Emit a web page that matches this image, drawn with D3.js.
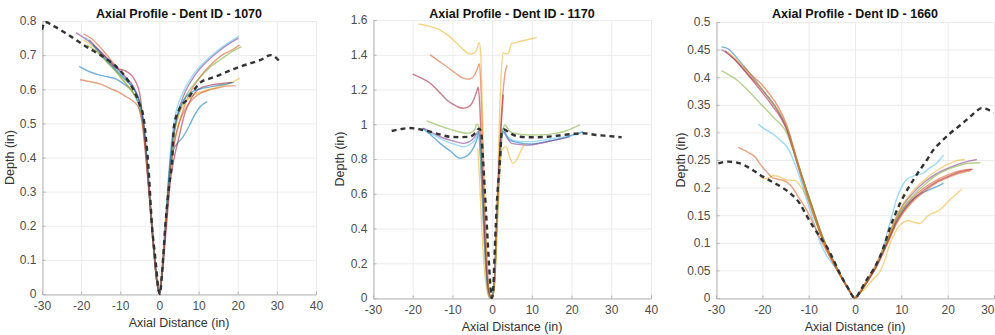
<!DOCTYPE html>
<html>
<head>
<meta charset="utf-8">
<script src="https://cdn.jsdelivr.net/npm/d3@7"></script>
<style>
  body { margin: 0; background: #fff; }
  svg { display: block; font-family: "Liberation Sans", Arial, sans-serif; }
  .tick-label { fill: #4d4d4d; font-size: 12px; }
  .axis-label { fill: #333; font-size: 12.5px; }
  .title { fill: #111; font-size: 12.5px; font-weight: bold; }
</style>
</head>
<body>
<div id="chart"></div>
<script>
// MATLAB default line colour order
const lineColors = ["#0072BD", "#D95319", "#EDB120", "#7E2F8E", "#77AC30", "#4DBEEE", "#A2142F"];

// ---- Dent ID 1070 ----
const xTicks1070 = [-30, -20, -10, 0, 10, 20, 30, 40];
const yTicks1070 = [0, 0.1, 0.2, 0.3, 0.4, 0.5, 0.6, 0.7, 0.8];
const dashed1070 = [[-30,0.774],[-29.2,0.797],[-27,0.785],[-24,0.765],[-21,0.742],[-18,0.72],[-15,0.70],[-12.5,0.68],[-10,0.655],[-8,0.625],[-6.7,0.60],[-5.2,0.56],[-4.1,0.52],[-3.3,0.44],[-2.8,0.37],[-1.9,0.2],[-1,0.1],[-0.3,0.02],[0.1,0],[0.6,0.05],[1.5,0.2],[2.5,0.32],[3.3,0.4],[3.7,0.49],[5,0.54],[7.1,0.57],[9,0.6],[10.5,0.62],[13,0.632],[15.6,0.643],[18,0.655],[20.8,0.667],[23.5,0.677],[25.9,0.686],[28.5,0.70],[30.6,0.683]];
const lines1070 = [
  [[-20.5,0.667],[-18,0.652],[-15.5,0.642],[-13,0.636],[-11,0.63],[-9,0.615],[-7,0.595],[-5.5,0.56],[-4.3,0.5],[-3.4,0.4],[-2.5,0.28],[-1.6,0.15],[-0.7,0.04],[0,0],[0.8,0.08],[1.8,0.22],[2.8,0.36],[3.5,0.42],[4.5,0.44],[6,0.46],[7.5,0.49],[9,0.525],[10.5,0.55],[12.2,0.564]],
  [[-19.4,0.762],[-17,0.745],[-14.5,0.715],[-12,0.68],[-9.5,0.645],[-7,0.61],[-5.3,0.57],[-4.2,0.51],[-3.3,0.41],[-2.5,0.29],[-1.6,0.16],[-0.7,0.05],[0,0],[0.7,0.07],[1.7,0.22],[2.6,0.35],[3.5,0.43],[5,0.5],[7,0.57],[10,0.63],[13,0.67],[16,0.7],[18.5,0.715],[20.5,0.73]],
  [[-19.5,0.745],[-17,0.725],[-14.5,0.695],[-12,0.665],[-9.5,0.63],[-7,0.595],[-5.3,0.56],[-4.2,0.5],[-3.3,0.4],[-2.5,0.28],[-1.6,0.15],[-0.7,0.04],[0,0],[0.6,0.07],[1.5,0.21],[2.4,0.35],[3.2,0.44],[4.5,0.51],[6.5,0.56],[9,0.585],[12,0.597],[15,0.607],[18,0.618],[20.5,0.632]],
  [[-21.3,0.766],[-18,0.74],[-15,0.71],[-12,0.675],[-9,0.64],[-6.5,0.605],[-5,0.56],[-4,0.5],[-3.2,0.4],[-2.4,0.28],[-1.5,0.15],[-0.6,0.04],[0,0],[0.7,0.06],[1.6,0.2],[2.4,0.33],[3.2,0.43],[4.5,0.52],[6.5,0.59],[9,0.64],[12,0.68],[15,0.71],[18,0.735],[20.2,0.75]],
  [[-18.6,0.73],[-16,0.71],[-13.5,0.68],[-11,0.65],[-8.5,0.615],[-6.5,0.585],[-5,0.55],[-4,0.49],[-3.2,0.39],[-2.4,0.27],[-1.5,0.14],[-0.6,0.03],[0,0],[0.8,0.08],[1.7,0.22],[2.6,0.36],[3.5,0.45],[5,0.53],[7,0.585],[10,0.63],[13,0.665],[16,0.69],[18.5,0.71],[21,0.725]],
  [[-19,0.752],[-16.5,0.725],[-14,0.695],[-11.5,0.665],[-9,0.635],[-6.5,0.6],[-5,0.56],[-4.1,0.5],[-3.3,0.4],[-2.5,0.28],[-1.6,0.15],[-0.7,0.04],[0,0],[0.6,0.06],[1.5,0.2],[2.3,0.34],[3,0.44],[4,0.52],[6,0.59],[8.5,0.64],[11.5,0.68],[14.5,0.71],[17.5,0.735],[20.3,0.755]],
  [[-18,0.745],[-15.5,0.715],[-13,0.685],[-11,0.662],[-9,0.655],[-7.5,0.645],[-6.2,0.625],[-5,0.585],[-4.2,0.51],[-3.4,0.41],[-2.5,0.28],[-1.6,0.15],[-0.7,0.04],[0,0],[0.8,0.07],[1.8,0.2],[2.8,0.33],[3.8,0.4],[5,0.46],[6.5,0.53],[8,0.57],[10,0.6],[13,0.612],[16,0.617],[18.5,0.62]],
  [[-17,0.73],[-14,0.69],[-11,0.655],[-8.5,0.625],[-6.5,0.6],[-5,0.56],[-4.1,0.5],[-3.3,0.4],[-2.5,0.28],[-1.6,0.15],[-0.7,0.04],[0,0],[0.7,0.07],[1.6,0.21],[2.5,0.35],[3.3,0.45],[4.5,0.52],[6,0.565],[8,0.59],[10,0.6],[12,0.605],[14.5,0.61],[17,0.615],[19,0.62]],
  [[-20.3,0.628],[-17.5,0.622],[-15,0.615],[-12.5,0.602],[-10.5,0.592],[-8.5,0.578],[-6.5,0.563],[-5.3,0.545],[-4.3,0.49],[-3.4,0.39],[-2.5,0.27],[-1.6,0.14],[-0.7,0.04],[0,0],[0.8,0.08],[1.8,0.22],[2.8,0.36],[3.8,0.44],[5,0.5],[6.5,0.54],[8,0.565],[10,0.585],[12.5,0.597],[15,0.604],[17.5,0.61],[19.5,0.61]]
];
const colorIdx1070 = [0, 1, 2, 3, 4, 5, 6, 0, 1];

// ---- Dent ID 1170 ----
const xTicks1170 = [-30, -20, -10, 0, 10, 20, 30, 40];
const yTicks1170 = [0, 0.2, 0.4, 0.6, 0.8, 1, 1.2, 1.4, 1.6];
const dashed1170 = [[-25.3,0.961],[-23,0.972],[-20.7,0.978],[-18,0.97],[-15.6,0.957],[-13,0.94],[-10.6,0.928],[-8,0.926],[-5.6,0.928],[-4.2,0.95],[-3.3,0.975],[-2.8,0.96],[-2.3,0.8],[-1.8,0.6],[-1.3,0.4],[-0.8,0.2],[-0.4,0.06],[-0.1,0],[0.3,0.06],[0.7,0.3],[1.2,0.55],[2.0,0.8],[2.4,0.95],[3,0.97],[4.5,0.948],[7,0.928],[10,0.925],[13.7,0.928],[17.9,0.938],[20.5,0.945],[22.9,0.948],[26.3,0.938],[29.5,0.932],[32.6,0.925]];
const lines1170 = [
  [[-17.5,0.977],[-15.3,0.935],[-13.1,0.89],[-10.5,0.845],[-8.1,0.804],[-6.8,0.812],[-5.6,0.833],[-4.6,0.87],[-3.9,0.909],[-3.3,0.957],[-2.8,0.85],[-2.3,0.6],[-1.8,0.35],[-1.3,0.12],[-0.9,0.03],[-0.4,0],[0.4,0.05],[1.1,0.4],[1.8,0.75],[2.3,0.92],[2.8,0.977],[3.5,0.94],[4.5,0.909],[6.5,0.895],[9.5,0.886],[13.7,0.9],[17.9,0.92],[20.5,0.94],[22.9,0.957]],
  [[-15.6,1.399],[-13.5,1.365],[-11.4,1.331],[-9.3,1.295],[-7.3,1.265],[-6,1.26],[-5.1,1.265],[-4.4,1.285],[-3.9,1.31],[-3.2,1.347],[-2.8,1.2],[-2.3,0.85],[-1.8,0.5],[-1.2,0.18],[-0.6,0.02],[0,0],[0.6,0.1],[1.2,0.45],[1.8,0.8],[2.3,1.05],[2.8,1.2],[3.3,1.3],[3.8,1.34]],
  [[-18.6,1.577],[-16,1.565],[-13.1,1.542],[-11,1.51],[-8.9,1.466],[-7,1.425],[-5.6,1.404],[-4.6,1.41],[-3.9,1.427],[-3.3,1.47],[-2.9,1.42],[-2.5,1.1],[-2.1,0.7],[-1.6,0.35],[-1.1,0.08],[-0.6,0],[0.5,0.05],[1.2,0.5],[1.8,1.0],[2.3,1.3],[2.8,1.41],[3.5,1.405],[4.1,1.41],[4.9,1.466],[6,1.47],[7,1.476],[8.5,1.485],[10.4,1.495],[11.2,1.5]],
  [[-17.3,0.977],[-15,0.95],[-13.1,0.928],[-10,0.905],[-7.3,0.89],[-6,0.897],[-5.1,0.909],[-4.2,0.935],[-3.5,0.96],[-3,0.85],[-2.5,0.6],[-1.9,0.3],[-1.2,0.06],[-0.5,0],[0.4,0.05],[1.1,0.4],[1.8,0.78],[2.3,0.93],[2.8,0.957],[3.8,0.92],[4.9,0.89],[7,0.883],[9.5,0.88],[12,0.89],[14,0.9],[17,0.915],[19.6,0.928]],
  [[-16.5,1.02],[-14,0.998],[-11.4,0.977],[-9,0.96],[-6.4,0.948],[-5.1,0.955],[-4.3,0.975],[-3.9,1.0],[-3.4,0.99],[-2.9,0.8],[-2.3,0.5],[-1.6,0.2],[-0.8,0.03],[0,0],[0.6,0.08],[1.3,0.4],[2,0.75],[2.6,0.95],[3.2,0.996],[4.5,0.957],[6.5,0.944],[9.5,0.938],[13.7,0.94],[16,0.948],[17.9,0.957],[20,0.975],[22.1,0.996]],
  [[-17,0.965],[-14.5,0.935],[-12.3,0.909],[-9.5,0.885],[-7.3,0.87],[-5.5,0.885],[-4.5,0.905],[-3.9,0.93],[-3.4,0.95],[-2.9,0.8],[-2.4,0.55],[-1.8,0.25],[-1.2,0.05],[-0.6,0],[0.4,0.05],[1.1,0.4],[1.8,0.78],[2.3,0.93],[2.8,0.95],[3.8,0.93],[5,0.91],[7.5,0.9],[10,0.9],[13,0.91],[16,0.92],[19,0.93],[21,0.94],[22.5,0.955]],
  [[-20,1.289],[-17.8,1.265],[-15.6,1.236],[-13.5,1.19],[-11.4,1.14],[-9.3,1.108],[-7.3,1.092],[-6,1.1],[-5.1,1.12],[-4.4,1.155],[-3.9,1.188],[-3.5,1.213],[-3.1,1.1],[-2.6,0.8],[-2.1,0.5],[-1.5,0.2],[-0.8,0.03],[0,0],[0.6,0.1],[1.2,0.45],[1.8,0.8],[2.3,1.0],[2.8,1.17]],
  [[-3.6,0.86],[-3.2,0.7],[-2.6,0.4],[-1.9,0.15],[-1.0,0.02],[-0.3,0],[0.5,0.05],[1.2,0.4],[1.8,0.72],[2.4,0.85],[3.5,0.871],[4.4,0.81],[5.3,0.775],[6.3,0.8],[7.3,0.85],[8.3,0.89]]
];
const colorIdx1170 = [0, 1, 2, 3, 4, 5, 6, 2];

// ---- Dent ID 1660 ----
const xTicks1660 = [-30, -20, -10, 0, 10, 20, 30];
const yTicks1660 = [0, 0.05, 0.1, 0.15, 0.2, 0.25, 0.3, 0.35, 0.4, 0.45, 0.5];
const dashed1660 = [[-29.5,0.244],[-27.4,0.247],[-24.8,0.244],[-22.5,0.234],[-20.5,0.223],[-18,0.211],[-15.5,0.199],[-13.5,0.186],[-11.9,0.171],[-10.5,0.15],[-9,0.129],[-7.5,0.11],[-6.1,0.093],[-4.7,0.07],[-3.3,0.045],[-1.5,0.018],[0,0],[1.2,0.014],[2.5,0.033],[4,0.052],[5.4,0.075],[6.5,0.1],[7.6,0.129],[8.7,0.152],[9.7,0.171],[11,0.192],[12.6,0.214],[14,0.232],[15.5,0.25],[16.9,0.268],[18.7,0.284],[20.5,0.298],[22.7,0.313],[24.8,0.328],[26,0.337],[27.3,0.344],[28.5,0.342],[29.9,0.335]];
const lines1660 = [
  [[-28.8,0.455],[-27.5,0.452],[-26,0.44],[-24,0.42],[-22,0.4],[-20,0.377],[-18,0.355],[-16,0.33],[-14.5,0.305],[-13.3,0.27],[-12,0.235],[-10.5,0.195],[-9,0.158],[-7.6,0.12],[-6,0.09],[-4.5,0.065],[-3,0.04],[-1.5,0.018],[0,0],[1.5,0.015],[3,0.035],[4.5,0.055],[6,0.082],[7.5,0.11],[9,0.14],[10.5,0.16],[12,0.175],[14,0.188],[16,0.196],[18,0.203],[19.1,0.208]],
  [[-24.1,0.42],[-22.5,0.405],[-20.5,0.39],[-18.5,0.37],[-16.5,0.345],[-14.8,0.315],[-13.5,0.28],[-12.3,0.245],[-11,0.21],[-9.5,0.172],[-8,0.135],[-6.5,0.1],[-5,0.072],[-3.5,0.047],[-2,0.024],[0,0],[1.5,0.016],[3,0.036],[4.5,0.058],[6,0.086],[7.5,0.115],[9,0.143],[10.5,0.163],[12.5,0.182],[15,0.2],[17.5,0.213],[20,0.223],[22.5,0.23],[24.5,0.233],[25.5,0.233]],
  [[-20.5,0.22],[-19.5,0.216],[-18.5,0.218],[-17.6,0.222],[-16.5,0.22],[-14.7,0.214],[-13,0.213],[-12,0.205],[-10.5,0.185],[-9,0.15],[-7.5,0.115],[-6,0.085],[-4.5,0.06],[-3,0.037],[-1.5,0.016],[0,0],[1.1,0.008],[2.5,0.02],[4,0.035],[5.4,0.048],[6.5,0.07],[7.4,0.095],[8.2,0.111],[9.3,0.128],[10.4,0.137],[11.5,0.14],[12.5,0.138],[14,0.135],[15,0.142],[15.5,0.147],[16.5,0.153],[17.6,0.156],[19,0.165],[20.5,0.178],[21.8,0.188],[23,0.197]],
  [[-28.8,0.45],[-27,0.44],[-25,0.425],[-23,0.405],[-21,0.387],[-19,0.367],[-17,0.345],[-15.5,0.322],[-14,0.29],[-12.8,0.255],[-11.5,0.22],[-10,0.183],[-8.5,0.145],[-7,0.11],[-5.5,0.08],[-4,0.055],[-2.5,0.032],[-1.2,0.014],[0,0],[1.5,0.017],[3,0.038],[4.5,0.06],[6,0.088],[7.5,0.118],[9,0.148],[10.5,0.17],[12.5,0.19],[15,0.21],[17.5,0.225],[20,0.235],[22.5,0.243],[24.5,0.248],[26.3,0.251]],
  [[-28.8,0.412],[-27,0.403],[-25.5,0.395],[-23,0.375],[-20.5,0.353],[-17.7,0.328],[-14.7,0.298],[-13.2,0.265],[-12,0.235],[-10.5,0.197],[-9,0.16],[-7.5,0.123],[-6,0.092],[-4.5,0.065],[-3,0.04],[-1.5,0.018],[0,0],[1.5,0.016],[3,0.036],[4.5,0.058],[6,0.085],[7.5,0.115],[9,0.145],[10.5,0.165],[12.5,0.185],[15,0.205],[17.5,0.222],[20,0.233],[22.5,0.24],[24.5,0.244],[27,0.245]],
  [[-20.9,0.315],[-19.5,0.306],[-17.7,0.297],[-16,0.285],[-14.7,0.274],[-13.3,0.25],[-12,0.22],[-10.5,0.18],[-9,0.14],[-7.5,0.1],[-6,0.075],[-4.5,0.058],[-3,0.04],[-1.5,0.016],[0,0],[1.5,0.015],[3,0.034],[4.5,0.058],[6,0.09],[7,0.12],[8,0.15],[9,0.18],[10,0.2],[11.2,0.215],[13,0.222],[14.7,0.226],[16,0.235],[17.6,0.244],[19.1,0.259]],
  [[-28,0.448],[-26,0.432],[-24,0.413],[-22,0.393],[-20,0.372],[-18,0.35],[-16,0.326],[-14.5,0.3],[-13.3,0.267],[-12,0.23],[-10.5,0.19],[-9,0.153],[-7.5,0.117],[-6,0.087],[-4.5,0.062],[-3,0.038],[-1.5,0.017],[0,0],[1.5,0.015],[3,0.034],[4.5,0.055],[6,0.082],[7.5,0.11],[9,0.138],[10.5,0.158],[12.5,0.178],[15,0.196],[17.5,0.21],[20,0.22],[22.5,0.228],[25.2,0.233]],
  [[-27.5,0.445],[-26,0.435],[-24,0.418],[-22,0.398],[-20,0.378],[-18,0.356],[-16,0.332],[-14.5,0.305],[-13.3,0.27],[-12,0.232],[-10.5,0.192],[-9,0.155],[-7.5,0.118],[-6,0.088],[-4.5,0.062],[-3,0.038],[-1.5,0.017],[0,0],[1.5,0.017],[3,0.038],[4.5,0.06],[6,0.088],[7.5,0.118],[9,0.148],[10.5,0.172],[12.5,0.194],[15,0.214],[17.5,0.23],[20,0.242],[22,0.249],[23.7,0.251]],
  [[-25.2,0.273],[-24,0.268],[-22.7,0.262],[-21.5,0.255],[-20.5,0.243],[-19,0.228],[-17.6,0.217],[-16,0.214],[-14.7,0.21],[-13.5,0.2],[-12,0.18],[-10.5,0.16],[-9,0.135],[-7.5,0.107],[-6,0.083],[-4.5,0.06],[-3,0.038],[-1.5,0.017],[0,0],[1.5,0.015],[3,0.034],[4.5,0.055],[6,0.08],[7.5,0.108],[9,0.135],[10.5,0.155],[12.5,0.175],[15,0.193],[17.5,0.208],[20,0.218],[22.5,0.226],[25,0.231]]
];
const colorIdx1660 = [0, 1, 2, 3, 4, 5, 6, 2, 1];

const WIDTH = 995, HEIGHT = 335;

const panels = [
  { title: "Axial Profile - Dent ID - 1070", xTicks: xTicks1070, yTicks: yTicks1070, dashed: dashed1070, lines: lines1070, colorIdx: colorIdx1070,
    box: { left: 42, right: 316, top: 21, bottom: 294 }, yLabelOffset: 28 },
  { title: "Axial Profile - Dent ID - 1170", xTicks: xTicks1170, yTicks: yTicks1170, dashed: dashed1170, lines: lines1170, colorIdx: colorIdx1170,
    box: { left: 373, right: 651, top: 20, bottom: 298 }, yLabelOffset: 29 },
  { title: "Axial Profile - Dent ID - 1660", xTicks: xTicks1660, yTicks: yTicks1660, dashed: dashed1660, lines: lines1660, colorIdx: colorIdx1660,
    box: { left: 716, right: 994, top: 22, bottom: 298 }, yLabelOffset: 31 }
];

const svg = d3.select("#chart").append("svg")
  .attr("width", WIDTH)
  .attr("height", HEIGHT);

function drawPanel(p, i) {
  const b = p.box;
  const xScale = d3.scaleLinear()
    .domain(d3.extent(p.xTicks))
    .range([b.left, b.right]);
  const yScale = d3.scaleLinear()
    .domain(d3.extent(p.yTicks))
    .range([b.bottom, b.top]);

  const g = svg.append("g").attr("class", "panel");

  // grid
  g.append("g").selectAll("line")
    .data(p.xTicks)
    .join("line")
    .attr("x1", d => xScale(d) + 0.5).attr("x2", d => xScale(d) + 0.5)
    .attr("y1", b.top).attr("y2", b.bottom)
    .attr("stroke", "#ececec").attr("stroke-width", 1);
  g.append("g").selectAll("line")
    .data(p.yTicks)
    .join("line")
    .attr("x1", b.left).attr("x2", b.right)
    .attr("y1", d => yScale(d) + 0.5).attr("y2", d => yScale(d) + 0.5)
    .attr("stroke", "#ececec").attr("stroke-width", 1);

  // axes (MATLAB-like: inward ticks, grey lines)
  const xAxis = g.append("g")
    .attr("transform", "translate(0," + (b.bottom + 0.5) + ")")
    .call(d3.axisBottom(xScale).tickValues(p.xTicks).tickSize(-3).tickPadding(7).tickFormat(d => String(d)));
  const yAxis = g.append("g")
    .attr("transform", "translate(" + (b.left + 0.5) + ",0)")
    .call(d3.axisLeft(yScale).tickValues(p.yTicks).tickSize(-3).tickPadding(6).tickFormat(d => String(d)));
  [xAxis, yAxis].forEach(ax => {
    ax.attr("font-family", null).attr("font-size", null);
    ax.select(".domain").attr("stroke", "#b5b5b5");
    ax.selectAll(".tick line").attr("stroke", "#b5b5b5");
    ax.selectAll(".tick text").attr("class", "tick-label").attr("fill", null);
  });
  // keep the last x label inside the page when the axis ends at the edge
  xAxis.selectAll(".tick text")
    .filter(d => xScale(d) + 8 > WIDTH)
    .attr("text-anchor", "end")
    .attr("dx", WIDTH - 1 - b.right);

  // clip
  const clipId = "clip" + i;
  g.append("clipPath").attr("id", clipId)
    .append("rect")
    .attr("x", b.left).attr("y", b.top - 2)
    .attr("width", b.right - b.left + 4).attr("height", b.bottom - b.top + 4);

  const line = d3.line()
    .x(d => xScale(d[0]))
    .y(d => yScale(d[1]))
    .curve(d3.curveMonotoneX);

  const plot = g.append("g").attr("clip-path", "url(#" + clipId + ")");

  plot.selectAll("path.profile")
    .data(p.lines)
    .join("path")
    .attr("class", "profile")
    .attr("d", line)
    .attr("fill", "none")
    .attr("stroke", (d, k) => lineColors[p.colorIdx[k]])
    .attr("stroke-opacity", 0.55)
    .attr("stroke-width", 1.4);

  plot.append("path")
    .datum(p.dashed)
    .attr("d", line)
    .attr("fill", "none")
    .attr("stroke", "#333")
    .attr("stroke-width", 2.4)
    .attr("stroke-dasharray", "5,4");

  // labels
  const cx = (b.left + b.right) / 2;
  g.append("text")
    .attr("class", "title")
    .attr("x", cx).attr("y", 17.5)
    .attr("text-anchor", "middle")
    .text(p.title);

  g.append("text")
    .attr("class", "axis-label")
    .attr("x", cx).attr("y", b.bottom + 33)
    .attr("text-anchor", "middle")
    .text("Axial Distance (in)");

  g.append("text")
    .attr("class", "axis-label")
    .attr("transform", "translate(" + (b.left - p.yLabelOffset) + "," + ((b.top + b.bottom) / 2) + ") rotate(-90)")
    .attr("text-anchor", "middle")
    .text("Depth (in)");
}

panels.forEach(drawPanel);
</script>
</body>
</html>
